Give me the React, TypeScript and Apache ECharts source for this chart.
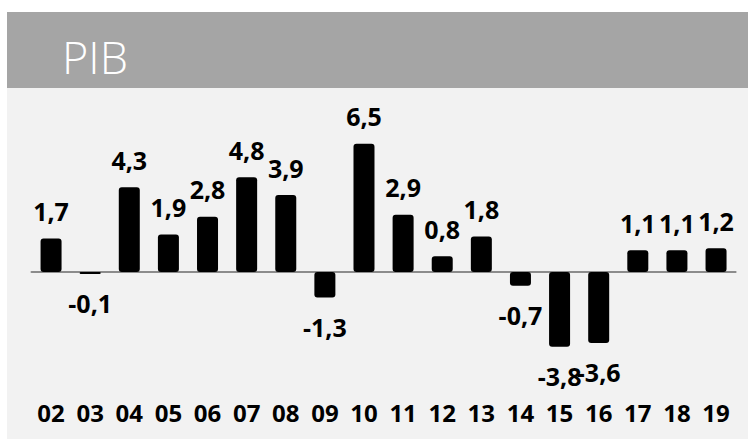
import React, { useEffect, useRef } from "react";
import * as echarts from "echarts";

const title = "PIB";
const categories = ["02", "03", "04", "05", "06", "07", "08", "09", "10", "11", "12", "13", "14", "15", "16", "17", "18", "19"];
const values = [1.7, -0.1, 4.3, 1.9, 2.8, 4.8, 3.9, -1.3, 6.5, 2.9, 0.8, 1.8, -0.7, -3.8, -3.6, 1.1, 1.1, 1.2];

export default function App() {
  const ref = useRef<HTMLDivElement>(null);
  useEffect(() => {
    if (!ref.current) return;
    const chart = echarts.init(ref.current, null, { renderer: "svg" });
    const font = "'Open Sans', sans-serif";
    chart.setOption({
      animation: false,
      backgroundColor: "#ffffff",
      graphic: [
        { type: "rect", z: -10, shape: { x: 7, y: 12, width: 741, height: 427 }, style: { fill: "#f2f2f2" } },
        { type: "rect", z: -9, shape: { x: 7, y: 12, width: 741, height: 76 }, style: { fill: "#a5a5a5" } },
        {
          type: "text", z: -8, x: 62, y: 56,
          style: { text: title, fill: "#ffffff", font: `300 45px ${font}`, verticalAlign: "middle", align: "left" },
        },
      ],
      grid: { left: 31.5, right: 12.4, top: 134, bottom: 88.2 },
      xAxis: [
        {
          type: "category",
          data: categories,
          position: "bottom",
          axisLine: { show: false, onZero: false },
          axisTick: { show: false },
          axisLabel: { color: "#000", fontFamily: font, fontWeight: "bold", fontSize: 24, margin: 50 },
        },
        {
          type: "category",
          data: categories,
          position: "top",
          axisLine: { show: true, onZero: true, lineStyle: { color: "#8c8c8c", width: 2 } },
          axisTick: { show: false },
          axisLabel: { show: false },
        },
      ],
      yAxis: {
        type: "value",
        min: -4,
        max: 7,
        show: false,
        splitLine: { show: false },
      },
      series: [
        {
          type: "bar",
          xAxisIndex: 0,
          barWidth: 21,
          itemStyle: { color: "#000000", borderRadius: 3 },
          data: values.map((v) => ({
            value: v,
            label: {
              show: true,
              position: v < 0 ? "bottom" : "top",
              distance: v < 0 ? 17 : 15,
              color: "#000",
              fontFamily: font,
              fontWeight: "bold",
              fontSize: 25,
              formatter: () => String(v).replace(".", ","),
            },
          })),
        },
      ],
    });
    return () => chart.dispose();
  }, []);
  return <div ref={ref} style={{ position: "fixed", left: 0, top: 0, width: 748, height: 439 }} />;
}
